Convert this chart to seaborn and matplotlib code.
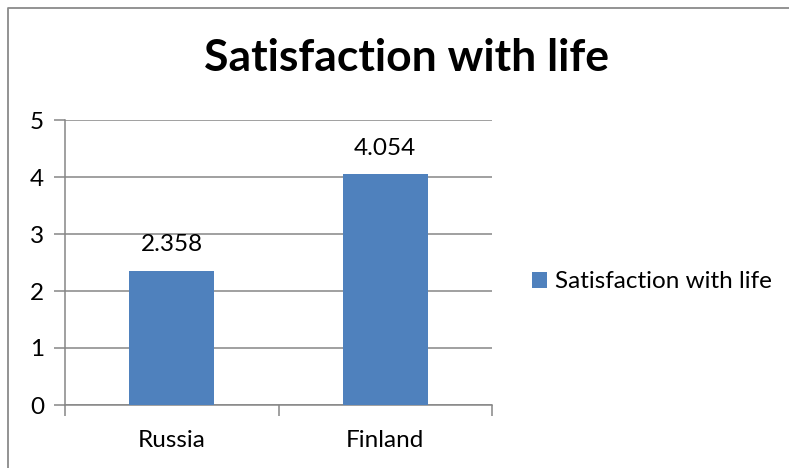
import matplotlib
matplotlib.use("Agg")
import matplotlib.pyplot as plt
import seaborn as sns
import pandas as pd
from matplotlib.lines import Line2D

categories = ["Russia", "Finland"]
values = [2.358, 4.054]
series_name = "Satisfaction with life"
title = "Satisfaction with life"
yticks = [0, 1, 2, 3, 4, 5]

sns.set_style("white")
plt.rcParams["font.family"] = ["Lato", "DejaVu Sans"]
plt.rcParams["text.color"] = "black"
plt.rcParams["xtick.color"] = "black"
plt.rcParams["ytick.color"] = "black"

df = pd.DataFrame({"country": categories, "value": values, "series": series_name})

fig = plt.figure(figsize=(7.89, 4.68), dpi=100)
ax = fig.add_axes([65/789, 1-405/468, (492-65)/789, (405-120)/468])

grid_c = "#868686"
fs = 17.5
sns.barplot(data=df, x="country", y="value", hue="series", palette=["#4F81BD"],
            saturation=1, width=0.4, ax=ax, zorder=3, legend=True, linewidth=0)

ax.set_xlim(-0.5, 1.5)
ax.set_ylim(0, 5)
ax.set_yticks(yticks)
ax.set_yticklabels([str(t) for t in yticks])
ax.yaxis.grid(True, color=grid_c, linewidth=1.1, zorder=0)
ax.set_axisbelow(True)
ax.set_xlabel("")
ax.set_ylabel("")

for s in ["top", "right"]:
    ax.spines[s].set_visible(False)
for s in ["left", "bottom"]:
    ax.spines[s].set_color(grid_c)
    ax.spines[s].set_linewidth(1.1)

ax.tick_params(axis="y", which="major", length=8, width=1.1, color=grid_c,
               labelcolor="black", labelsize=fs, pad=7, left=True)
ax.tick_params(axis="x", which="major", length=0, labelsize=fs, labelcolor="black",
               pad=18, bottom=True)
ax.set_xticks([-0.5, 0.5, 1.5], minor=True)
ax.tick_params(axis="x", which="minor", length=8, width=1.1, color=grid_c, bottom=True)

for c in ax.containers:
    ax.bar_label(c, labels=[f"{v:.3f}" for v in values], padding=11, fontsize=fs,
                 color="black")

ax.legend(loc="center left", frameon=False, fontsize=fs, handlelength=0.6,
          handleheight=0.6, handletextpad=0.35, borderaxespad=0, borderpad=0)
leg = ax.get_legend()
leg.set_bbox_to_anchor((532/789, 1-282/468), transform=fig.transFigure)
for t in leg.get_texts():
    t.set_color("black")

fig.text(406/789, 1-58/468, title, ha="center", va="center", fontsize=32,
         fontweight="bold", color="black")

border = Line2D([8/789, 8/789, 1.0], [0.0, 1-8/468, 1-8/468], transform=fig.transFigure,
                color="#8a8a8a", linewidth=1.3)
fig.add_artist(border)

fig.savefig("out.png", dpi=100)
